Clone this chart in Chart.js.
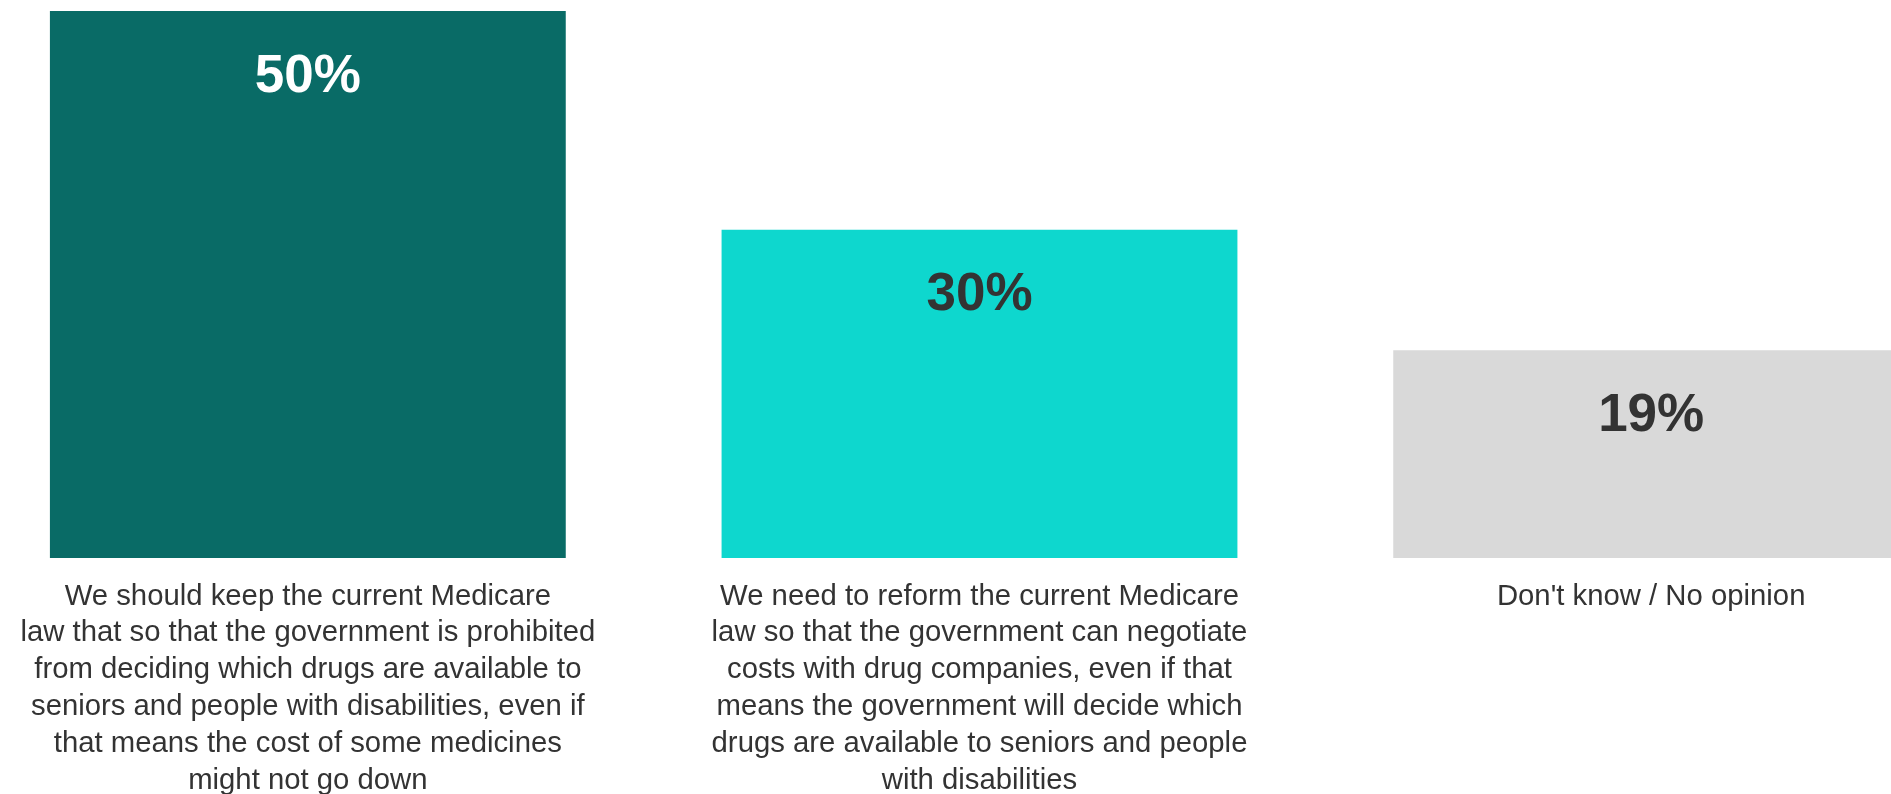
<!DOCTYPE html>
<html>
<head>
<meta charset="utf-8">
<script src="https://cdn.jsdelivr.net/npm/chart.js@4"></script>
<style>
  html, body { margin: 0; padding: 0; background: #fff; overflow: hidden; }
  body { width: 1891px; height: 794px; position: relative; }
  #wrap { position: absolute; left: -28px; top: 0; width: 2015px; height: 794px; }
</style>
</head>
<body>
<div id="wrap"><canvas id="chart"></canvas></div>
<script>
// categories (pre-wrapped as in the original slide)
const categories = [
  ["We should keep the current Medicare",
   "law that so that the government is prohibited",
   "from deciding which drugs are available to",
   "seniors and people with disabilities, even if",
   "that means the cost of some medicines",
   "might not go down"],
  ["We need to reform the current Medicare",
   "law so that the government can negotiate",
   "costs with drug companies, even if that",
   "means the government will decide which",
   "drugs are available to seniors and people",
   "with disabilities"],
  ["Don't know / No opinion"]
];
const values = [50, 30, 19];

const barColors = ["#096b66", "#0ed7ce", "#d9d9d9"];
const valueColors = ["#ffffff", "#333333", "#333333"];
const FONT = "'Liberation Sans', Arial, sans-serif";

// draws the "50%" style labels inside the top of each bar
const valueLabels = {
  id: 'valueLabels',
  afterDatasetsDraw(chart) {
    const ctx = chart.ctx;
    const meta = chart.getDatasetMeta(0);
    ctx.save();
    ctx.font = "bold 53px " + FONT;
    ctx.textAlign = 'center';
    ctx.textBaseline = 'middle';
    meta.data.forEach((bar, i) => {
      ctx.fillStyle = valueColors[i];
      ctx.fillText(values[i] + '%', bar.x, bar.y + 66);
    });
    ctx.restore();
  }
};

const ctx = document.getElementById('chart').getContext('2d');
new Chart(ctx, {
  type: 'bar',
  data: {
    labels: categories,
    datasets: [{
      data: values,
      backgroundColor: barColors,
      borderWidth: 0,
      categoryPercentage: 1,
      barPercentage: 0.768
    }]
  },
  options: {
    responsive: true,
    maintainAspectRatio: false,
    animation: false,
    layout: { padding: { top: 11, left: 0, right: 0, bottom: 0 } },
    plugins: {
      legend: { display: false },
      tooltip: { enabled: false }
    },
    scales: {
      x: {
        grid: { display: false, drawTicks: false },
        border: { display: false },
        afterFit: scale => { scale.height = 236; },
        ticks: {
          padding: 20,
          maxRotation: 0,
          autoSkip: false,
          color: '#333333',
          font: { family: FONT, size: 29.3, lineHeight: 1.26 }
        }
      },
      y: {
        display: false,
        min: 0,
        max: 50
      }
    }
  },
  plugins: [valueLabels]
});
</script>
</body>
</html>
